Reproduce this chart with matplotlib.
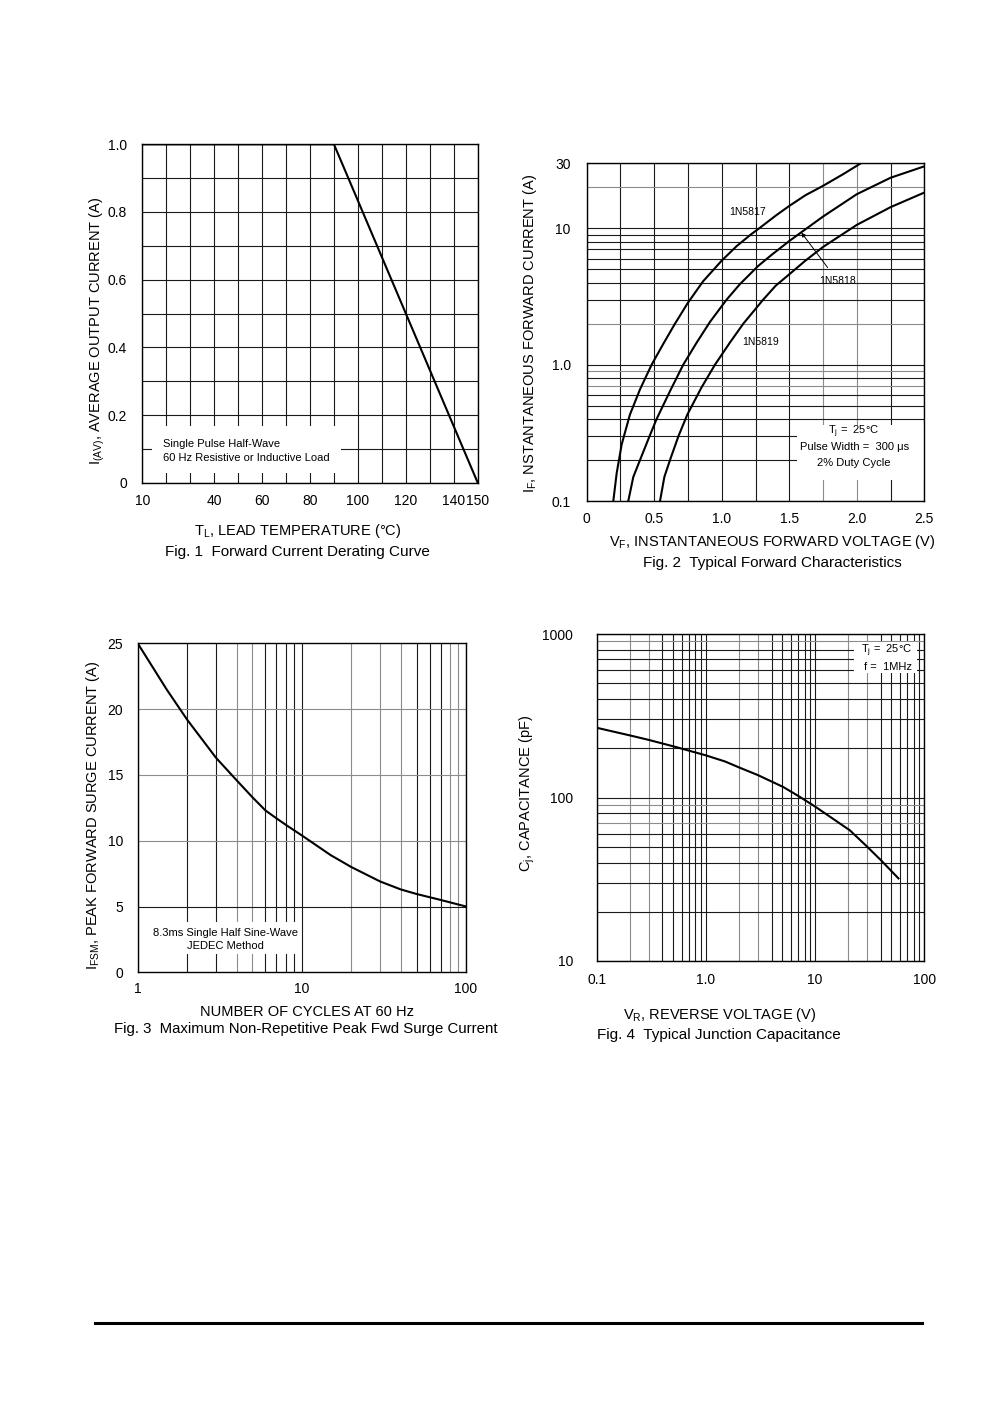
import matplotlib
matplotlib.use('Agg')
import matplotlib.pyplot as plt
from matplotlib.patches import Rectangle
from matplotlib.lines import Line2D
from matplotlib.ticker import FixedLocator, FixedFormatter, NullLocator
import numpy as np

plt.rcParams['font.family'] = ['Liberation Sans', 'DejaVu Sans']
plt.rcParams['mathtext.fontset'] = 'custom'
plt.rcParams['mathtext.rm'] = 'Liberation Sans'
plt.rcParams['mathtext.it'] = 'Liberation Sans:italic'
plt.rcParams['mathtext.bf'] = 'Liberation Sans:bold'

# ---------------- data ----------------
# Fig. 1 Forward current derating
fig1_temp = [10, 90, 150]
fig1_current = [1.0, 1.0, 0.0]
fig1_xticks = [10, 40, 60, 80, 100, 120, 140, 150]
fig1_xticklabels = ['10', '40', '60', '80', '100', '120', '140', '150']
fig1_yticks = [0, 0.2, 0.4, 0.6, 0.8, 1.0]
fig1_yticklabels = ['0', '0.2', '0.4', '0.6', '0.8', '1.0']

# Fig. 2 Typical forward characteristics
v_5817 = [0.197, 0.222, 0.259, 0.32, 0.395, 0.481, 0.567, 0.654, 0.75, 0.863,
          1.0, 1.11, 1.221, 1.283, 1.4, 1.5, 1.62, 1.75, 1.9, 2.03]
i_5817 = [0.1, 0.16, 0.26, 0.43, 0.66, 1.0, 1.42, 2.0, 2.85, 4.1,
          5.8, 7.4, 9.1, 10.1, 12.4, 14.6, 17.5, 20.5, 25, 30]
v_5818 = [0.308, 0.345, 0.395, 0.469, 0.518, 0.617, 0.715, 0.814, 0.913, 1.036,
          1.135, 1.27, 1.37, 1.5, 1.579, 1.75, 2.0, 2.25, 2.5]
i_5818 = [0.1, 0.15, 0.2, 0.305, 0.40, 0.64, 1.0, 1.45, 2.06, 3.0,
          3.9, 5.3, 6.4, 8.07, 9.2, 12.2, 17.8, 23.5, 28.5]
v_5819 = [0.543, 0.575, 0.617, 0.68, 0.745, 0.85, 0.95, 1.06, 1.16, 1.307,
          1.4, 1.5, 1.62, 1.75, 2.0, 2.25, 2.5]
i_5819 = [0.1, 0.15, 0.2, 0.3, 0.43, 0.68, 1.0, 1.45, 2.0, 3.0,
          3.8, 4.6, 5.8, 7.3, 10.6, 14.3, 18.3]
fig2_xticks = [0, 0.5, 1.0, 1.5, 2.0, 2.5]
fig2_xticklabels = ['0', '0.5', '1.0', '1.5', '2.0', '2.5']
fig2_yticks = [0.1, 1, 10, 30]
fig2_yticklabels = ['0.1', '1.0', '10', '30']

# Fig. 3 Surge current
fig3_cycles = [1, 1.5, 2, 3, 4, 5, 6, 7, 8, 10, 15, 20, 30, 40, 50, 70, 100]
fig3_current = [25, 21.5, 19.2, 16.3, 14.6, 13.3, 12.3, 11.7, 11.2, 10.4, 8.9, 8.0,
                6.9, 6.3, 5.95, 5.5, 5.0]
fig3_xticks = [1, 10, 100]
fig3_xticklabels = ['1', '10', '100']
fig3_yticks = [0, 5, 10, 15, 20, 25]
fig3_yticklabels = ['0', '5', '10', '15', '20', '25']

# Fig. 4 Junction capacitance
fig4_voltage = [0.1, 0.2, 0.3, 0.54, 1.0, 1.5, 2.0, 3.0, 5.1, 7.28, 10, 14, 20.8, 30, 40, 58]
fig4_cap = [267, 240, 225, 203, 181, 166, 153, 137, 116, 100.7, 88, 75.5, 63, 50, 41.4, 32]
fig4_xticks = [0.1, 1, 10, 100]
fig4_xticklabels = ['0.1', '1.0', '10', '100']
fig4_yticks = [10, 100, 1000]
fig4_yticklabels = ['10', '100', '1000']

# ---------------- layout helpers ----------------
W, H = 1000, 1415
fig = plt.figure(figsize=(10, 14.15), dpi=100)


def fx(x):
    return x / W


def fy(y):
    return 1 - y / H


def rect(l, t, r, b):
    return [fx(l), fy(b), (r - l) / W, (b - t) / H]


BLACK = '#1a1a1a'
GREY = '#8c8c8c'


def log_grid(lo, hi):
    vals = []
    e = int(np.floor(np.log10(lo)))
    while 10 ** e <= hi:
        for m in range(1, 10):
            v = m * 10 ** e
            if lo * 0.999 <= v <= hi * 1.001:
                vals.append(v)
        e += 1
    return vals


def draw_grid(ax, xs, ys, xgrey=(), ygrey=()):
    for v in xs:
        c = GREY if any(np.isclose(v, g) for g in xgrey) else BLACK
        ax.axvline(v, color=c, lw=0.8, zorder=1)
    for v in ys:
        c = GREY if any(np.isclose(v, g) for g in ygrey) else BLACK
        ax.axhline(v, color=c, lw=0.8, zorder=1)


def style_axes(ax, xticks, xlabels, yticks, ylabels, xpad, ypad):
    ax.xaxis.set_major_locator(FixedLocator(xticks))
    ax.xaxis.set_major_formatter(FixedFormatter(xlabels))
    ax.yaxis.set_major_locator(FixedLocator(yticks))
    ax.yaxis.set_major_formatter(FixedFormatter(ylabels))
    ax.xaxis.set_minor_locator(NullLocator())
    ax.yaxis.set_minor_locator(NullLocator())
    ax.tick_params(axis='x', length=0, pad=xpad, labelsize=10, colors='black')
    ax.tick_params(axis='y', length=0, pad=ypad, labelsize=10, colors='black')
    for s in ax.spines.values():
        s.set_linewidth(1.0)
        s.set_color('black')
        s.set_zorder(5)


def white_box(ax, x0, y0, x1, y1):
    ax.add_patch(Rectangle((x0, y0), x1 - x0, y1 - y0, transform=ax.transAxes,
                           facecolor='white', edgecolor='none', zorder=1.5))


# ---------------- Fig. 1 ----------------
ax1 = fig.add_axes(rect(142.3, 144.3, 477.7, 482.7))
ax1.set_xlim(10, 150)
ax1.set_ylim(0, 1.0)
draw_grid(ax1, np.arange(10, 151, 10), np.arange(0, 1.01, 0.1))
white_box(ax1, 0.029, 0.029, 0.592, 0.168)
ax1.plot(fig1_temp, fig1_current, color='black', lw=1.5, zorder=3)
style_axes(ax1, fig1_xticks, fig1_xticklabels, fig1_yticks, fig1_yticklabels, 8, 11)
ax1.text(0.0626, 0.114, 'Single Pulse Half-Wave', transform=ax1.transAxes,
         fontsize=8, ha='left', va='center', zorder=4)
ax1.text(0.0626, 0.074, '60 Hz Resistive or Inductive Load', transform=ax1.transAxes,
         fontsize=8, ha='left', va='center', zorder=4)
fig.text(fx(97.5), fy(331), r'I$_\mathrm{(AV)}$, AVERAGE OUTPUT CURRENT (A)',
         rotation=90, ha='center', va='center', fontsize=10.5)
fig.text(fx(298), fy(535), r'T$_\mathrm{L}$, LEAD TEMPERATURE (°C)',
         ha='center', va='baseline', fontsize=10.5)
fig.text(fx(297), fy(556.5), 'Fig. 1  Forward Current Derating Curve',
         ha='center', va='baseline', fontsize=11)

# ---------------- Fig. 2 ----------------
ax2 = fig.add_axes(rect(586.7, 163.3, 924.3, 501))
ax2.set_yscale('log')
ax2.set_xlim(0, 2.5)
ax2.set_ylim(0.1, 30)
draw_grid(ax2, np.arange(0, 2.51, 0.25), log_grid(0.1, 30),
          xgrey=[1.75, 2.0], ygrey=[20, 2, 0.9, 0.7])
white_box(ax2, 0.622, 0.062, 1.0, 0.225)
for v, i in ((v_5817, i_5817), (v_5818, i_5818), (v_5819, i_5819)):
    ax2.plot(v, i, color='black', lw=1.5, zorder=3, clip_on=True,
             solid_joinstyle='round')
style_axes(ax2, fig2_xticks, fig2_xticklabels, fig2_yticks, fig2_yticklabels, 8, 11.5)
ax2.text(1.19, 13.1, '1N5817', fontsize=7.5, ha='center', va='center', zorder=4)
ax2.text(1.286, 1.46, '1N5819', fontsize=7.5, ha='center', va='center', zorder=4)
ax2.annotate('1N5818', xy=(1.59, 9.3), xycoords='data',
             xytext=(1.858, 4.12), textcoords='data',
             fontsize=7.5, ha='center', va='center', zorder=4,
             arrowprops=dict(arrowstyle='-|>', lw=0.7, color='black',
                             mutation_scale=6, shrinkA=5, shrinkB=0))
ax2.text(0.792, 0.205, r'T$_\mathrm{j}$ =  25°C', transform=ax2.transAxes,
         fontsize=8, ha='center', va='center', zorder=4)
ax2.text(0.792, 0.159, 'Pulse Width =  300 μs', transform=ax2.transAxes,
         fontsize=8, ha='center', va='center', zorder=4)
ax2.text(0.792, 0.114, '2% Duty Cycle', transform=ax2.transAxes,
         fontsize=8, ha='center', va='center', zorder=4)
fig.text(fx(530), fy(333), r'I$_\mathrm{F}$, NSTANTANEOUS FORWARD CURRENT (A)',
         rotation=90, ha='center', va='center', fontsize=10.5)
fig.text(fx(772), fy(546), r'V$_\mathrm{F}$, INSTANTANEOUS FORWARD VOLTAGE (V)',
         ha='center', va='baseline', fontsize=10.5)
fig.text(fx(772), fy(567.3), 'Fig. 2  Typical Forward Characteristics',
         ha='center', va='baseline', fontsize=11)

# ---------------- Fig. 3 ----------------
ax3 = fig.add_axes(rect(137.7, 643.3, 466, 972.3))
ax3.set_xscale('log')
ax3.set_xlim(1, 100)
ax3.set_ylim(0, 25)
draw_grid(ax3, log_grid(1, 100), [5, 10, 15, 20],
          xgrey=[4, 5, 20, 30, 40, 80, 90], ygrey=[10, 15, 20])
white_box(ax3, 0.031, 0.056, 0.494, 0.154)
ax3.plot(fig3_cycles, fig3_current, color='black', lw=1.5, zorder=3,
         solid_joinstyle='round')
style_axes(ax3, fig3_xticks, fig3_xticklabels, fig3_yticks, fig3_yticklabels, 7, 10.5)
ax3.text(0.266, 0.119, '8.3ms Single Half Sine-Wave', transform=ax3.transAxes,
         fontsize=8, ha='center', va='center', zorder=4)
ax3.text(0.266, 0.081, 'JEDEC Method', transform=ax3.transAxes,
         fontsize=8, ha='center', va='center', zorder=4)
fig.text(fx(93.5), fy(815), r'I$_\mathrm{FSM}$, PEAK FORWARD SURGE CURRENT (A)',
         rotation=90, ha='center', va='center', fontsize=10.5)
fig.text(fx(306.7), fy(1015.7), 'NUMBER OF CYCLES AT 60 Hz',
         ha='center', va='baseline', fontsize=10.5)
fig.text(fx(305.8), fy(1033.3), 'Fig. 3  Maximum Non-Repetitive Peak Fwd Surge Current',
         ha='center', va='baseline', fontsize=10.8)

# ---------------- Fig. 4 ----------------
ax4 = fig.add_axes(rect(596.7, 634, 924.3, 961))
ax4.set_xscale('log')
ax4.set_yscale('log')
ax4.set_xlim(0.1, 100)
ax4.set_ylim(10, 1000)
draw_grid(ax4, log_grid(0.1, 100), log_grid(10, 1000),
          xgrey=[0.2, 0.3, 2, 3, 20, 30], ygrey=[90, 70, 900])
white_box(ax4, 0.784, 0.88, 0.977, 0.976)
ax4.plot(fig4_voltage, fig4_cap, color='black', lw=1.5, zorder=3,
         solid_joinstyle='round')
style_axes(ax4, fig4_xticks, fig4_xticklabels, fig4_yticks, fig4_yticklabels, 9, 17)
ax4.text(0.885, 0.949, r'T$_\mathrm{j}$ =  25°C', transform=ax4.transAxes,
         fontsize=8, ha='center', va='center', zorder=4)
ax4.text(0.890, 0.900, 'f =  1MHz', transform=ax4.transAxes,
         fontsize=8, ha='center', va='center', zorder=4)
fig.text(fx(527), fy(793), r'C$_\mathrm{j}$, CAPACITANCE (pF)',
         rotation=90, ha='center', va='center', fontsize=10.5)
fig.text(fx(720), fy(1019), r'V$_\mathrm{R}$, REVERSE VOLTAGE (V)',
         ha='center', va='baseline', fontsize=10.5)
fig.text(fx(719), fy(1039), 'Fig. 4  Typical Junction Capacitance',
         ha='center', va='baseline', fontsize=11)

# bottom rule
fig.add_artist(Line2D([fx(95), fx(922)], [fy(1322.5), fy(1322.5)],
                      lw=2.2, color='black'))

fig.savefig('out.png', dpi=100, facecolor='white')
